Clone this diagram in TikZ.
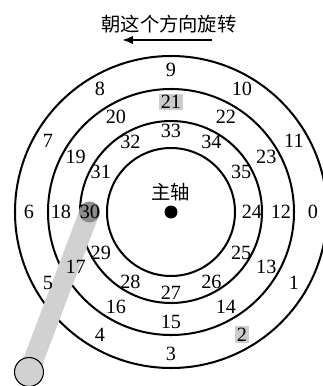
\documentclass[tikz,border=0pt]{standalone}
\usepackage{fontspec}
\setmainfont{Liberation Serif}
\newfontfamily\cjk{Noto Sans CJK SC}
\usetikzlibrary{arrows.meta}

\begin{document}
\begin{tikzpicture}[x=0.02cm, y=0.02cm,
      trk/.style={line width=1.15pt},
      num/.style={font=\fontsize{11.5}{13}\selectfont, inner sep=1pt},
      hit/.style={num, fill=black!20, minimum height=0.34cm},
      every node/.style={align=center}]
    \useasboundingbox (-171,-174) rectangle (152,212);
    \clip (-171,-174) rectangle (152,212);
    % direction of rotation
    \node[font=\cjk\fontsize{11}{13}\selectfont] (title) at (-2,188) {朝这个方向旋转};
    \coordinate (rotFrom) at (41,172);
    \coordinate (rotTo) at (-49,172);
    \draw[-{Latex[length=2.2mm,width=1.7mm]}, trk] (rotFrom) -- (rotTo);
    % tracks
    \foreach \r in {64,91,123,156} \draw[trk] (0,0) circle (\r);
    % spindle
    \node[circle, fill=black, inner sep=0pt, minimum size=0.26cm] (spindle) at (0,0) {};
    \node[font=\cjk\fontsize{11}{13}\selectfont] (spLabel) at (0,20) {主轴};
    % arm with head over sector 30
    \coordinate (head) at (180:81.5);
    \coordinate (pivot) at (-142,-160);
    \draw[line width=0.4cm, black!18] (head) -- (pivot);
    \node[circle, fill=black!45, inner sep=0pt, minimum size=0.42cm] (headDisk) at (head) {};
    \node[circle, draw, line width=0.6pt, fill=black!18, inner sep=0pt, minimum size=0.58cm] (pivotDisk) at (pivot) {};
    % sector numbers
    \foreach \k in {0,...,11} {
      \pgfmathtruncatemacro\m{\k+12}
      \pgfmathtruncatemacro\n{\k+24}
      \edef\sto{\ifnum\k=2 hit\else num\fi}
      \edef\stm{\ifnum\m=21 hit\else num\fi}
      \node[\sto] (o\k) at ({-30*\k}:142) {\k};
      \node[\stm] (m\m) at ({-30*\k}:110) {\m};
      \node[num] (i\n) at ({-30*\k}:81) {\n};
    }
  \end{tikzpicture}
\end{document}
